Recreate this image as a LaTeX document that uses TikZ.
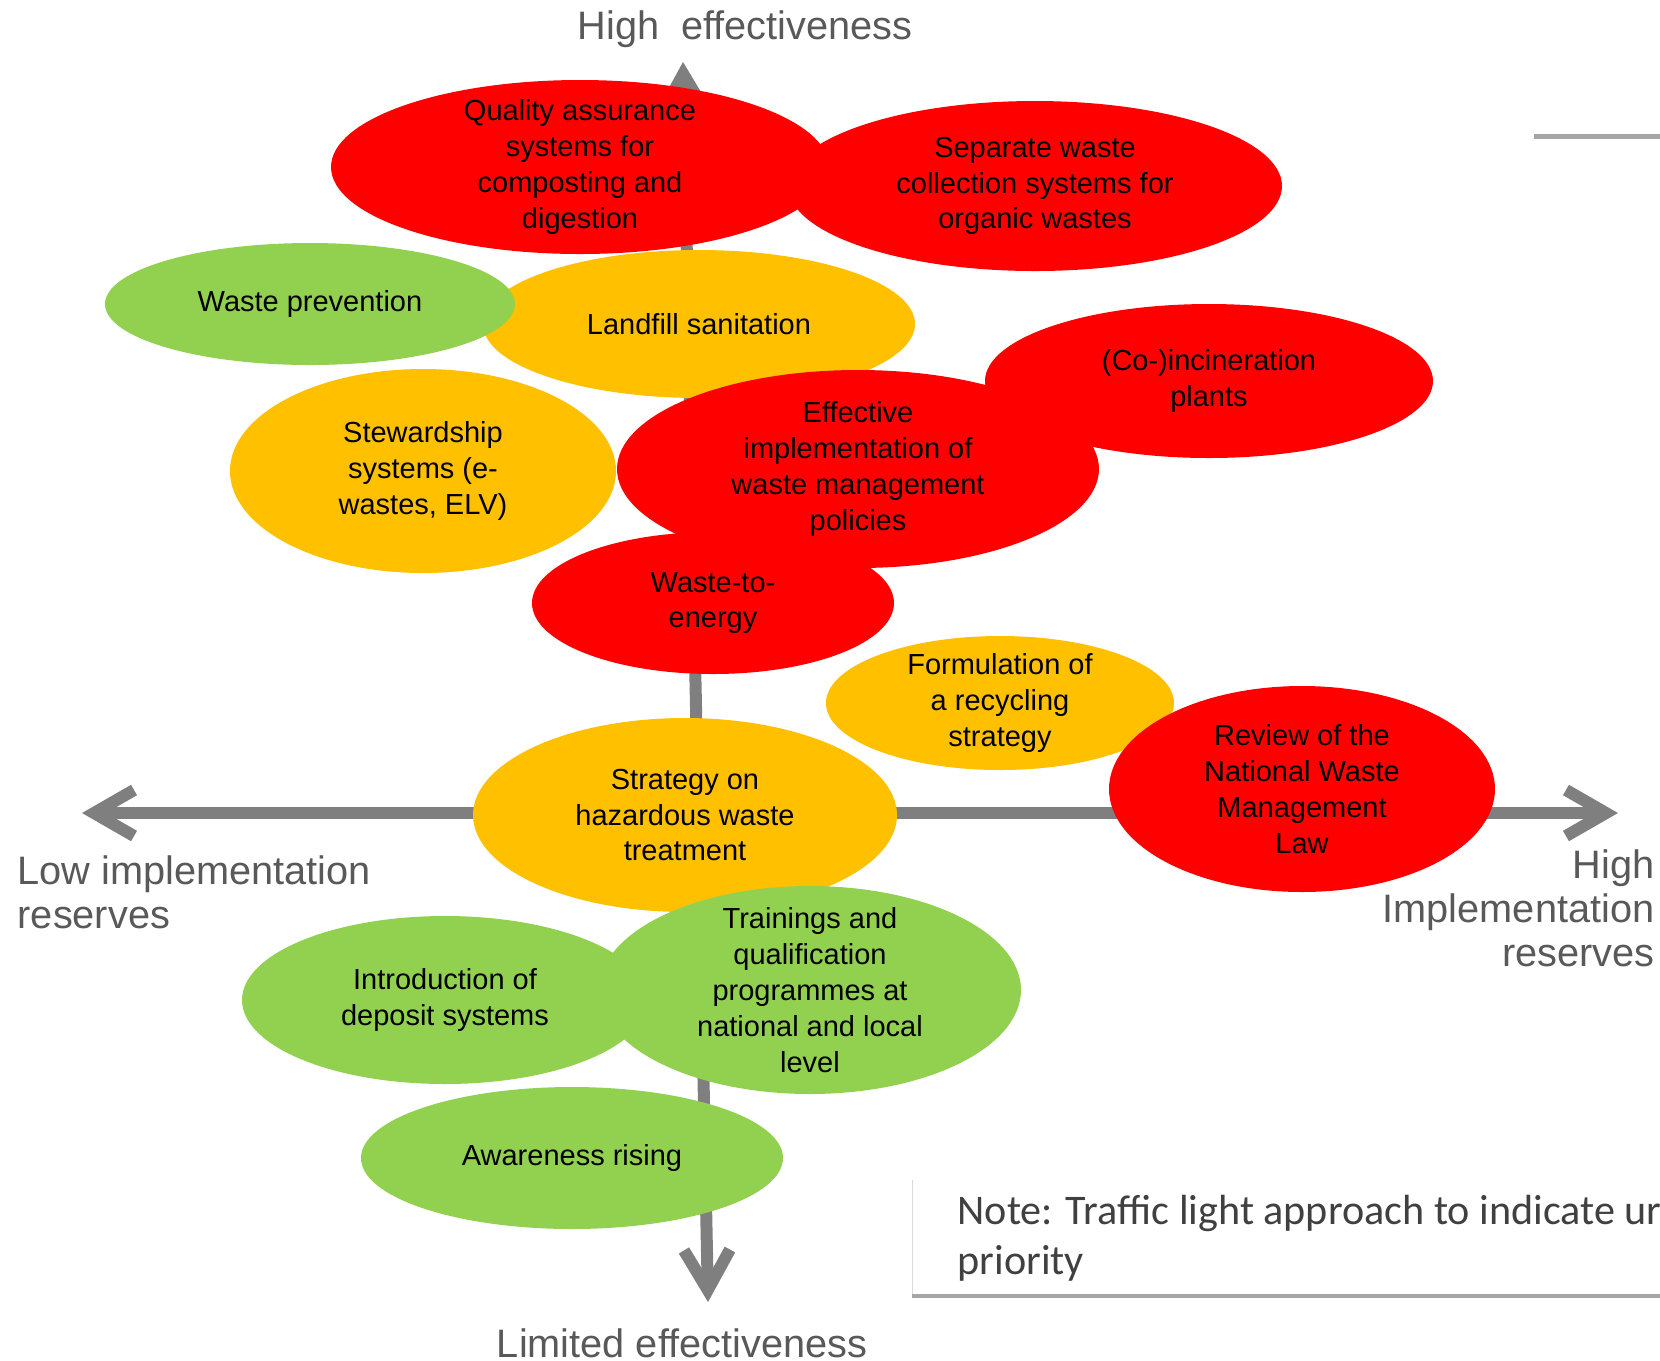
\documentclass[tikz,border=0pt]{standalone}
\usepackage{fontspec}
\setmainfont{Liberation Sans}
\newfontfamily\notefont{Carlito}
\usetikzlibrary{shapes.geometric,arrows.meta}
\definecolor{hot}{HTML}{FF0000}
\definecolor{mid}{HTML}{FFC000}
\definecolor{low}{HTML}{92D050}
\definecolor{axisgray}{HTML}{7F7F7F}
\definecolor{labelgray}{HTML}{595959}
\definecolor{notegray}{HTML}{404040}
\definecolor{rulegray}{HTML}{A6A6A6}
\definecolor{boxgray}{HTML}{D9D9D9}
\tikzset{
  blob/.style n args={3}{ellipse, fill=#1, draw=none, minimum width=#2*0.2mm, minimum height=#3*0.2mm, inner sep=0pt},
  blobtext/.style={align=center, font=\fontsize{8.25}{10.2}\selectfont, inner sep=0pt},
  axislabel/.style={font=\fontsize{11.3}{12.5}\selectfont, text=labelgray, inner sep=0pt},
  axisline/.style={line width=1.2mm, draw=axisgray, arrows={Straight Barb[length=4mm,width=4.6mm]-Straight Barb[length=4mm,width=4.6mm]}}
}

\begin{document}
\begin{tikzpicture}[x=0.1mm,y=-0.1mm]
\clip (0,0) rectangle (1660,1360);
\coordinate (left) at (82,813);
\coordinate (right) at (1618,813);
\coordinate (top) at (683,62);
\coordinate (bottom) at (708,1302);
\draw[axisline] (left) -- (right);
\draw[axisline] (bottom) -- (top);

\node[blob={mid}{216}{74}] (landfill) at (699,324) {};
\node[blob={low}{205}{61}] (prevention) at (310,304) {};
\node[blob={hot}{249}{87}] (quality) at (580,167) {};
\node[blob={hot}{247}{85}] (separate) at (1035,186) {};
\node[blob={mid}{193}{102}] (stewardship) at (423,471) {};
\node[blob={hot}{241}{99}] (effective) at (858,469) {};
\node[blob={hot}{224}{77}] (incineration) at (1209,381) {};
\node[blob={hot}{181}{71}] (energy) at (713,603) {};
\node[blob={mid}{174}{67}] (recycling) at (1000,703) {};
\node[blob={hot}{193}{103}] (review) at (1302,789) {};
\node[blob={mid}{212}{97}] (hazardous) at (685,815) {};
\node[blob={low}{203}{84}] (deposit) at (445,1000) {};
\node[blob={low}{211}{104}] (trainings) at (810,990) {};
\node[blob={low}{211}{71}] (awareness) at (572,1158) {};

\node[blobtext] (landfillT) at (landfill) {Landfill sanitation};
\node[blobtext] (preventionT) at (prevention) {Waste prevention};
\node[blobtext] (qualityT) at (quality) {Quality assurance\\systems for\\composting and\\digestion};
\node[blobtext] (separateT) at (separate) {Separate waste\\collection systems for\\organic wastes};
\node[blobtext] (stewardshipT) at (stewardship) {Stewardship\\systems (e-\\wastes, ELV)};
\node[blobtext] (effectiveT) at (effective) {Effective\\implementation of\\waste management\\policies};
\node[blobtext] (incinerationT) at (incineration) {(Co-)incineration\\plants};
\node[blobtext] (energyT) at (energy) {Waste-to-\\energy};
\node[blobtext] (recyclingT) at (recycling) {Formulation of\\a recycling\\strategy};
\node[blobtext] (reviewT) at (review) {Review of the\\National Waste\\Management\\Law};
\node[blobtext] (hazardousT) at (hazardous) {Strategy on\\hazardous waste\\treatment};
\node[blobtext] (depositT) at (deposit) {Introduction of\\deposit systems};
\node[blobtext] (trainingsT) at (trainings) {Trainings and\\qualification\\programmes at\\national and local\\level};
\node[blobtext] (awarenessT) at (awareness) {Awareness rising};

\node[axislabel, anchor=base] (higheff) at (745,39) {High\ \ effectiveness};
\node[axislabel, anchor=base] (loweff) at (682,1357) {Limited effectiveness};
\node[axislabel, align=left, anchor=base west] (lowimp) at (17,928) {Low implementation\\reserves};
\node[axislabel, align=right, anchor=base east] (highimp) at (1655,966) {High\\Implementation\\reserves};

\coordinate (rulestart) at (1534,136);
\coordinate (ruleend) at (1660,136);
\draw[line width=0.5mm, rulegray] (rulestart) -- (ruleend);
\coordinate (notetop) at (912,1180);
\coordinate (notecorner) at (912,1296);
\coordinate (noteend) at (1660,1296);
\draw[very thin, boxgray] (notetop) -- (notecorner);
\draw[line width=0.45mm, rulegray] (notecorner) -- (noteend);
\node[font=\notefont\fontsize{12}{14.2}\selectfont, text=notegray, align=left, anchor=base west, inner sep=0pt] (note) at (957,1274) {Note: Traffic light approach to indicate urgency and\\priority};
\end{tikzpicture}
\end{document}
